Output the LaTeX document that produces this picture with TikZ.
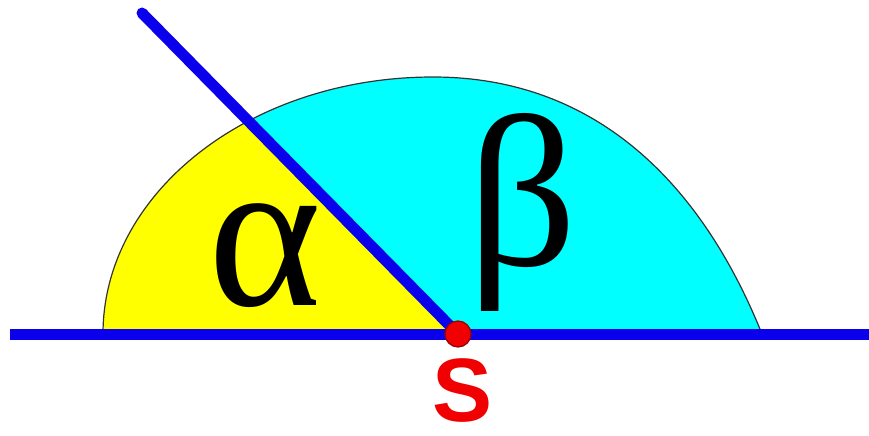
\documentclass[tikz,border=0pt]{standalone}
\usepackage{fontspec}
\newfontfamily\greekfont{Liberation Serif}
\newfontfamily\labelfont{Liberation Sans}
\usetikzlibrary{positioning}
\definecolor{betacyan}{RGB}{0,255,255}
\definecolor{alphayellow}{RGB}{255,255,0}
\definecolor{raysblue}{RGB}{10,0,235}
\definecolor{vertexred}{RGB}{240,0,0}

\begin{document}
\begin{tikzpicture}[
    x=0.5pt, y=0.5pt,
    halfdisc/.style={insert path={(103,101) .. controls (103,243) and (251,358) .. (433,358)
                                  .. controls (593,358) and (700,255) .. (762,101)}},
    ray/.style={draw=raysblue, line width=5.5pt},
    anglelabel/.style={font=\greekfont\fontsize{108pt}{108pt}\selectfont, anchor=base, inner sep=0pt},
    vertexdot/.style={circle, fill=vertexred, draw=red!60!black, line width=0.6pt, minimum size=13pt, inner sep=0pt},
    vertexlabel/.style={font=\labelfont\bfseries\fontsize{45pt}{45pt}\selectfont, text=vertexred, inner sep=0pt}
  ]
  \useasboundingbox (0,0) rectangle (869,435);
  % Points
  \coordinate (S) at (458,101);
  \coordinate (L) at (10,101);
  \coordinate (R) at (869,101);
  \coordinate (T) at (142,422);

  % Half disc: beta part cyan, alpha part yellow
  \fill[betacyan, halfdisc] -- cycle;
  \begin{scope}
    \clip (S) -- (T) -- (0,435) -- (0,0) -- (458,0) -- cycle;
    \fill[alphayellow, halfdisc] -- cycle;
  \end{scope}
  \draw[black!80, line width=0.6pt, halfdisc];

  % Rays
  \draw[ray] (L) -- (R);
  \draw[ray, line cap=round] (S) -- (T);

  % Vertex and labels
  \node[vertexdot] (Sdot) at (S) {};
  \node[vertexlabel] (Slabel) at (463,44) {S};
  \node[anglelabel] (alpha) at (265,130) {α};
  \node[anglelabel] (beta) at (522,170) {β};
\end{tikzpicture}
\end{document}
